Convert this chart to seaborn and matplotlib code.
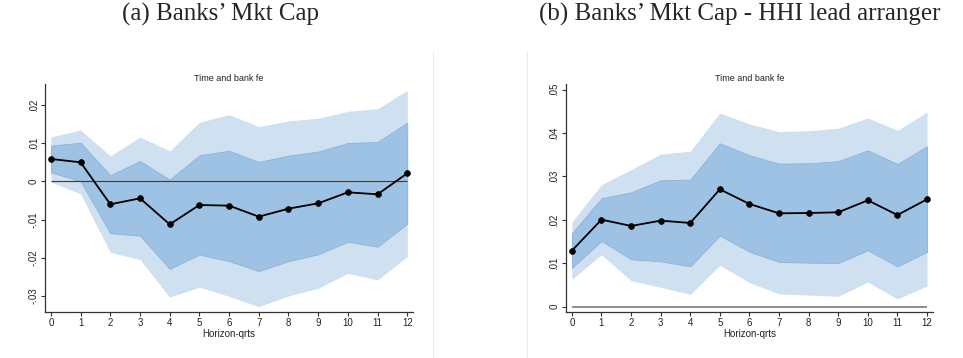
import matplotlib
matplotlib.use("Agg")
import matplotlib.pyplot as plt
from matplotlib.lines import Line2D
import numpy as np
import pandas as pd
import seaborn as sns

# Horizons (quarters)
horizons = list(range(13))
xtick_labels = [str(h) for h in horizons]

# Panel (a): Banks' market cap
a_coef = [0.00585, 0.00497, -0.00602, -0.00445, -0.01126, -0.0062, -0.00637,
          -0.00925, -0.00716, -0.00576, -0.00288, -0.0034, 0.0021]
a_inner_hi = [0.00934, 0.0101, 0.00157, 0.00532, 0.00044, 0.0068, 0.0080,
              0.00506, 0.00672, 0.00777, 0.01003, 0.0103, 0.01536]
a_inner_lo = [0.00236, 0.0, -0.0136, -0.0142, -0.0229, -0.0192, -0.0209,
              -0.02347, -0.0209, -0.0191, -0.0158, -0.0171, -0.0111]
a_outer_hi = [0.0116, 0.01344, 0.00663, 0.0116, 0.00794, 0.01545, 0.01745,
              0.01431, 0.0158, 0.0165, 0.01832, 0.0190, 0.0238]
a_outer_lo = [-0.0002, -0.0033, -0.0186, -0.0205, -0.0303, -0.0277, -0.0301,
              -0.0328, -0.0300, -0.0280, -0.0241, -0.0258, -0.0197]
a_yticks = [-0.03, -0.02, -0.01, 0.0, 0.01, 0.02]
a_ylabels = ["-.03", "-.02", "-.01", "0", ".01", ".02"]

# Panel (b): Banks' market cap - HHI lead arranger
b_coef = [0.0129, 0.02005, 0.01859, 0.01982, 0.01928, 0.02704, 0.02366,
          0.0215, 0.02158, 0.02174, 0.0245, 0.02112, 0.02473]
b_inner_hi = [0.0169, 0.02496, 0.02634, 0.02911, 0.02926, 0.03763, 0.03487,
              0.03295, 0.03303, 0.03349, 0.03602, 0.03287, 0.03694]
b_inner_lo = [0.00891, 0.01513, 0.01091, 0.01045, 0.00929, 0.01636, 0.01267,
              0.01029, 0.01014, 0.01006, 0.01298, 0.00929, 0.0126]
b_outer_hi = [0.01951, 0.02811, 0.03157, 0.03518, 0.03579, 0.04462, 0.04209,
              0.04032, 0.04055, 0.04109, 0.04347, 0.04063, 0.04485]
b_outer_lo = [0.0063, 0.01198, 0.00599, 0.00445, 0.00284, 0.00952, 0.00553,
              0.00292, 0.00269, 0.00238, 0.00568, 0.00177, 0.00476]
b_yticks = [0.0, 0.01, 0.02, 0.03, 0.04, 0.05]
b_ylabels = ["0", ".01", ".02", ".03", ".04", ".05"]

panel_titles = ["(a) Banks\u2019 Mkt Cap", "(b) Banks\u2019 Mkt Cap - HHI lead arranger"]
inner_title = "Time and bank fe"
xlabel = "Horizon-qrts"

sns.set_style("white")
plt.rcParams["font.family"] = ["Liberation Sans", "DejaVu Sans"]

OUTER = "#cfe0f0"
INNER = "#9dc2e3"
INNER_EDGE = "#8ab5dc"
SPINE = "#333333"

fig = plt.figure(figsize=(9.63, 3.58), dpi=100)
ax_a = fig.add_axes([0.0467, 0.1285, 0.3821, 0.6369])
ax_b = fig.add_axes([0.5874, 0.1285, 0.3814, 0.6369])

panels = [
    (ax_a, a_coef, a_inner_lo, a_inner_hi, a_outer_lo, a_outer_hi,
     a_yticks, a_ylabels, (-0.0342, 0.02547), (-0.2, 12.19), ("#3a3a3a", 0.8)),
    (ax_b, b_coef, b_inner_lo, b_inner_hi, b_outer_lo, b_outer_hi,
     b_yticks, b_ylabels, (-0.00123, 0.0513), (-0.21, 12.2), ("#8c8c8c", 1.4)),
]

for (ax, coef, ilo, ihi, olo, ohi, yt, yl, ylim, xlim, zero_style) in panels:
    df = pd.DataFrame({"h": horizons, "coef": coef})
    ax.fill_between(horizons, olo, ohi, color=OUTER, linewidth=0, zorder=1)
    ax.fill_between(horizons, ilo, ihi, facecolor=INNER, edgecolor=INNER_EDGE,
                    linewidth=0.6, zorder=2)
    ax.hlines(0, horizons[0], horizons[-1], color=zero_style[0],
              linewidth=zero_style[1], zorder=3)
    sns.lineplot(data=df, x="h", y="coef", ax=ax, color="black", linewidth=1.3,
                 marker="o", markersize=4.2, markeredgecolor="black",
                 markeredgewidth=0.5, zorder=4)
    ax.set_xlim(*xlim)
    ax.set_ylim(*ylim)
    ax.set_xticks(horizons)
    ax.set_xticklabels(xtick_labels)
    ax.set_yticks(yt)
    ax.set_yticklabels(yl)
    for lab in ax.get_yticklabels():
        lab.set_rotation(90)
        lab.set_va("center")
    ax.tick_params(axis="both", which="major", labelsize=7, length=3,
                   width=0.8, color=SPINE, labelcolor="#222222", pad=1.5,
                   direction="out", bottom=True, left=True)
    ax.set_xlabel(xlabel, fontsize=7, color="#222222", labelpad=0.5)
    ax.set_ylabel("")
    ax.set_title(inner_title, fontsize=6.5, color="#222222", pad=2.5)
    for side in ("top", "right"):
        ax.spines[side].set_visible(False)
    for side in ("left", "bottom"):
        ax.spines[side].set_color(SPINE)
        ax.spines[side].set_linewidth(0.9)
    ax.set_facecolor("white")

# Panel captions in a serif face
fig.text(220 / 963, 1 - 14 / 358, panel_titles[0], ha="center", va="center",
         fontsize=18, family=["Liberation Serif", "DejaVu Serif"])
fig.text(740 / 963, 1 - 14 / 358, panel_titles[1], ha="center", va="center",
         fontsize=18, family=["Liberation Serif", "DejaVu Serif"])

# Faint separators between the two panels
for xf in (433.3 / 963, 527.3 / 963):
    fig.add_artist(Line2D([xf, xf], [0, 1 - 51 / 358], color="#ececec",
                          linewidth=0.8))

fig.savefig("out.png", dpi=100, facecolor="white")
